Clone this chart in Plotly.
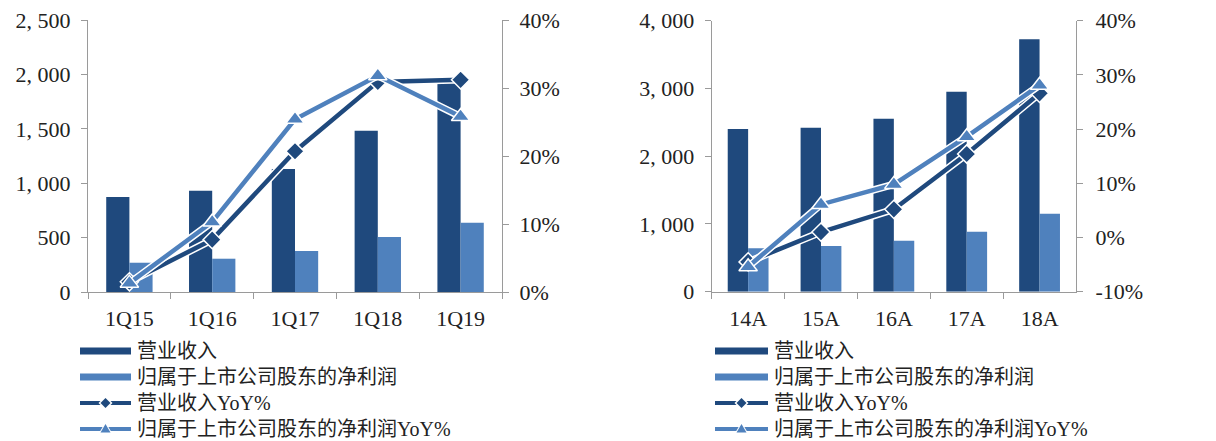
import plotly.graph_objects as go

# ---- data ----
quarters = ["1Q15", "1Q16", "1Q17", "1Q18", "1Q19"]
q_revenue = [873, 931, 1130, 1483, 1968]
q_net_profit = [269, 306, 377, 506, 637]
q_revenue_yoy = [1.5, 7.7, 20.7, 30.9, 31.2]
q_profit_yoy = [1.3, 10.3, 25.4, 31.8, 25.8]

years = ["14A", "15A", "16A", "17A", "18A"]
y_revenue = [2401, 2421, 2554, 2952, 3725]
y_net_profit = [640, 674, 753, 886, 1151]
y_revenue_yoy = [-4.5, 1.0, 5.2, 15.4, 26.6]
y_profit_yoy = [-5.4, 6.1, 9.8, 18.6, 28.1]

series_names = ["营业收入", "归属于上市公司股东的净利润", "营业收入YoY%", "归属于上市公司股东的净利润YoY%"]

q_left_ticks = [0, 500, 1000, 1500, 2000, 2500]
q_left_labels = ["0", "500", "1, 000", "1, 500", "2, 000", "2, 500"]
q_right_ticks = [0, 10, 20, 30, 40]
q_right_labels = ["0%", "10%", "20%", "30%", "40%"]

y_left_ticks = [0, 1000, 2000, 3000, 4000]
y_left_labels = ["0", "1, 000", "2, 000", "3, 000", "4, 000"]
y_right_ticks = [-10, 0, 10, 20, 30, 40]
y_right_labels = ["-10%", "0%", "10%", "20%", "30%", "40%"]

# ---- styling ----
W, H = 1216, 441
DARK = "#1F497D"
LIGHT = "#4F81BD"
AXIS = "#9A9A9A"
TEXT = "#222222"
NUM_FONT = dict(family="Liberation Serif, Noto Sans CJK SC", size=22, color=TEXT)
LEG_FONT = dict(family="Liberation Serif, Noto Sans CJK SC", size=20, color=TEXT)


def fx(px):
    return px / W


def fy(px):
    return 1 - px / H


fig = go.Figure()


def add_panel(cats, rev, prof, rev_yoy, prof_yoy, xa, ya, ya2):
    fig.add_trace(go.Bar(x=cats, y=rev, marker=dict(color=DARK, line=dict(width=0)),
                         xaxis=xa, yaxis=ya, showlegend=False, name=series_names[0]))
    fig.add_trace(go.Bar(x=cats, y=prof, marker=dict(color=LIGHT, line=dict(width=0)),
                         xaxis=xa, yaxis=ya, showlegend=False, name=series_names[1]))
    for vals, color, sym, size in [(rev_yoy, DARK, "diamond", 14), (prof_yoy, LIGHT, "triangle-up", 16)]:
        # white halo under each line
        fig.add_trace(go.Scatter(x=cats, y=vals, mode="lines", line=dict(color="white", width=7.5),
                                 xaxis=xa, yaxis=ya2, showlegend=False, hoverinfo="skip"))
        fig.add_trace(go.Scatter(x=cats, y=vals, mode="lines+markers",
                                 line=dict(color=color, width=4.5),
                                 marker=dict(symbol=sym, size=size, color=color,
                                             line=dict(color="white", width=1.5)),
                                 xaxis=xa, yaxis=ya2, showlegend=False))


add_panel(quarters, q_revenue, q_net_profit, q_revenue_yoy, q_profit_yoy, "x", "y", "y2")
add_panel(years, y_revenue, y_net_profit, y_revenue_yoy, y_profit_yoy, "x2", "y3", "y4")

common_axis = dict(showline=True, linecolor=AXIS, linewidth=1, ticks="outside", ticklen=6,
                   tickcolor=AXIS, showgrid=False, zeroline=False, tickfont=NUM_FONT,
                   fixedrange=True, automargin=False)

fig.update_layout(
    width=W, height=H, autosize=False,
    margin=dict(l=0, r=0, t=0, b=0, pad=0),
    showlegend=False,
    paper_bgcolor="white", plot_bgcolor="white",
    barmode="group", bargap=0.44, bargroupgap=0,
    xaxis=dict(domain=[fx(88), fx(502)], anchor="y", type="category",
               tickson="boundaries", ticklabelstandoff=7, **common_axis),
    yaxis=dict(domain=[fy(292), fy(20)], anchor="x", range=[0, 2500],
               tickvals=q_left_ticks, ticktext=q_left_labels, ticklabelstandoff=6, **common_axis),
    yaxis2=dict(overlaying="y", anchor="x", side="right", range=[0, 40],
                tickvals=q_right_ticks, ticktext=q_right_labels, ticklabelstandoff=6, **common_axis),
    xaxis2=dict(domain=[fx(711.7), fx(1076)], anchor="y3", type="category",
                tickson="boundaries", ticklabelstandoff=7, **common_axis),
    yaxis3=dict(domain=[fy(291.7), fy(20.7)], anchor="x2", range=[0, 4000],
                tickvals=y_left_ticks, ticktext=y_left_labels, ticklabelstandoff=6, **common_axis),
    yaxis4=dict(overlaying="y3", anchor="x2", side="right", range=[-10, 40],
                tickvals=y_right_ticks, ticktext=y_right_labels, ticklabelstandoff=8, **common_axis),
)

# ---- hand-drawn legends below each panel ----
LINE_STEP = LEG_FONT["size"] * 1.3          # plotly's multi-line text spacing
first_row = 351.0
row_y = [first_row + i * LINE_STEP for i in range(len(series_names))]
legend_styles = [(DARK, "bar", None), (LIGHT, "bar", None), (DARK, "line", "diamond"), (LIGHT, "line", "triangle")]
shapes = []
annotations = []
for sym_x0, sym_x1, text_x in [(80, 131, 136), (715, 768, 773)]:
    for ry, (color, kind, marker) in zip(row_y, legend_styles):
        width = 7 if kind == "bar" else 4
        shapes.append(dict(type="line", xref="paper", yref="paper",
                           x0=fx(sym_x0), x1=fx(sym_x1), y0=fy(ry), y1=fy(ry),
                           line=dict(color=color, width=width)))
        if marker is not None:
            cx = fx((sym_x0 + sym_x1) / 2)
            if marker == "diamond":
                halo = "M0,7 L7,0 L0,-7 L-7,0 Z"
                core = "M0,5 L5,0 L0,-5 L-5,0 Z"
            else:
                halo = "M-7,-5 L7,-5 L0,7 Z"
                core = "M-5,-3.5 L5,-3.5 L0,5 Z"
            for path, fill in [(halo, "white"), (core, color)]:
                shapes.append(dict(type="path", xref="paper", yref="paper",
                                   xsizemode="pixel", ysizemode="pixel",
                                   xanchor=cx, yanchor=fy(ry), path=path,
                                   fillcolor=fill, line=dict(width=0)))
    annotations.append(dict(text="<br>".join(series_names), xref="paper", yref="paper",
                            x=fx(text_x), y=fy((row_y[0] + row_y[-1]) / 2),
                            xanchor="left", yanchor="middle", align="left",
                            showarrow=False, borderpad=0, font=LEG_FONT))

fig.update_layout(shapes=shapes, annotations=annotations)

fig.write_html("out.html")
